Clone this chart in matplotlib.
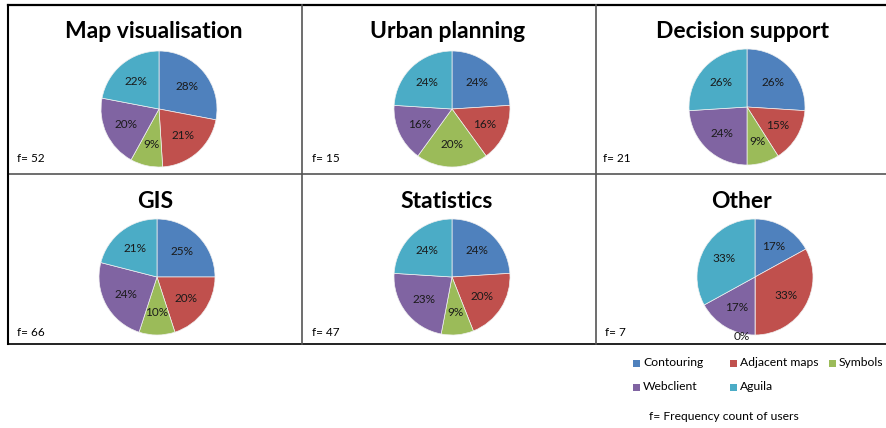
import matplotlib
matplotlib.use("Agg")
import matplotlib.pyplot as plt
from matplotlib.lines import Line2D
from matplotlib.patches import Rectangle

W, H = 886, 428

categories = ["Contouring", "Adjacent maps", "Symbols", "Webclient", "Aguila"]
colors = ["#4F81BD", "#C0504D", "#9BBB59", "#8064A2", "#4BACC6"]

titles = ["Map visualisation", "Urban planning", "Decision support",
          "GIS", "Statistics", "Other"]
map_vis = [28, 21, 9, 20, 22]
urban = [24, 16, 20, 16, 24]
decision = [26, 15, 9, 24, 26]
gis = [25, 20, 10, 24, 21]
statistics = [24, 20, 9, 23, 24]
other = [17, 33, 0, 17, 33]
series = [map_vis, urban, decision, gis, statistics, other]
freq = [52, 15, 21, 66, 47, 7]

plt.rcParams['font.family'] = ['Lato', 'DejaVu Sans']

fig = plt.figure(figsize=(W / 100, H / 100), dpi=100)
fig.patch.set_facecolor("white")

def px(x, y):
    return x / W, 1 - y / H

# layout (pixel positions)
centers = [(159, 109), (452, 109), (747, 107), (157, 277), (452, 277), (755, 277)]
title_pos = [(154, 32), (448, 32), (742, 32), (155, 202), (447, 202), (742, 202)]
f_pos = [(17, 158), (312, 158), (603, 158), (17, 332), (312, 332), (605, 332)]
R = 58

for i in range(6):
    cx, cy = centers[i]
    ax = fig.add_axes([(cx - R) / W, (H - cy - R) / H, 2 * R / W, 2 * R / H])
    wedges, texts, autotexts = ax.pie(
        series[i], colors=colors, startangle=90, counterclock=False,
        autopct='%1.0f%%', pctdistance=0.62, radius=1.0,
        wedgeprops=dict(linewidth=0.5, edgecolor="#f0f0f0"),
        textprops=dict(fontsize=8.5, color="#1a1a1a"))
    for v, t in zip(series[i], autotexts):
        if v == 0:
            t.set_position((-0.23, -1.03))
    ax.set_xlim(-1, 1)
    ax.set_ylim(-1, 1)
    ax.set_aspect("equal")
    ax.axis("off")
    tx, ty = title_pos[i]
    fig.text(*px(tx, ty), titles[i], ha="center", va="center",
             fontsize=16.5, fontweight="bold", color="black")
    fx, fy = f_pos[i]
    fig.text(*px(fx, fy), f"f= {freq[i]}", ha="left", va="center",
             fontsize=8.5, color="black")

# table lines
def hline(y, x0, x1, color="black", lw=1.5):
    fig.add_artist(Line2D([x0 / W, x1 / W], [1 - y / H, 1 - y / H],
                          color=color, lw=lw, transform=fig.transFigure))

def vline(x, y0, y1, color="black", lw=1.5):
    fig.add_artist(Line2D([x / W, x / W], [1 - y0 / H, 1 - y1 / H],
                          color=color, lw=lw, transform=fig.transFigure))

hline(5, 8, 886, "black", 1.6)
hline(174, 8, 886, "#555555", 1.2)
hline(344, 8, 886, "#222222", 1.4)
vline(8, 5, 344, "black", 1.5)
vline(302, 5, 344, "#555555", 1.2)
vline(596, 5, 344, "#555555", 1.2)

# legend
leg_pos = [(636, 363), (733, 363), (832, 363), (636, 387), (733, 387)]
for (lx, ly), c, name in zip(leg_pos, colors, categories):
    fig.add_artist(Rectangle(((lx - 3) / W, 1 - (ly + 3.5) / H), 7 / W, 7 / H,
                             facecolor=c, edgecolor="none",
                             transform=fig.transFigure))
    fig.text((lx + 7) / W, 1 - ly / H, name, ha="left", va="center",
             fontsize=8.7, color="black")

fig.text(*px(649, 417), "f= Frequency count of users", ha="left", va="center",
         fontsize=8.7, color="black")

fig.savefig("out.png", dpi=100, facecolor="white")
